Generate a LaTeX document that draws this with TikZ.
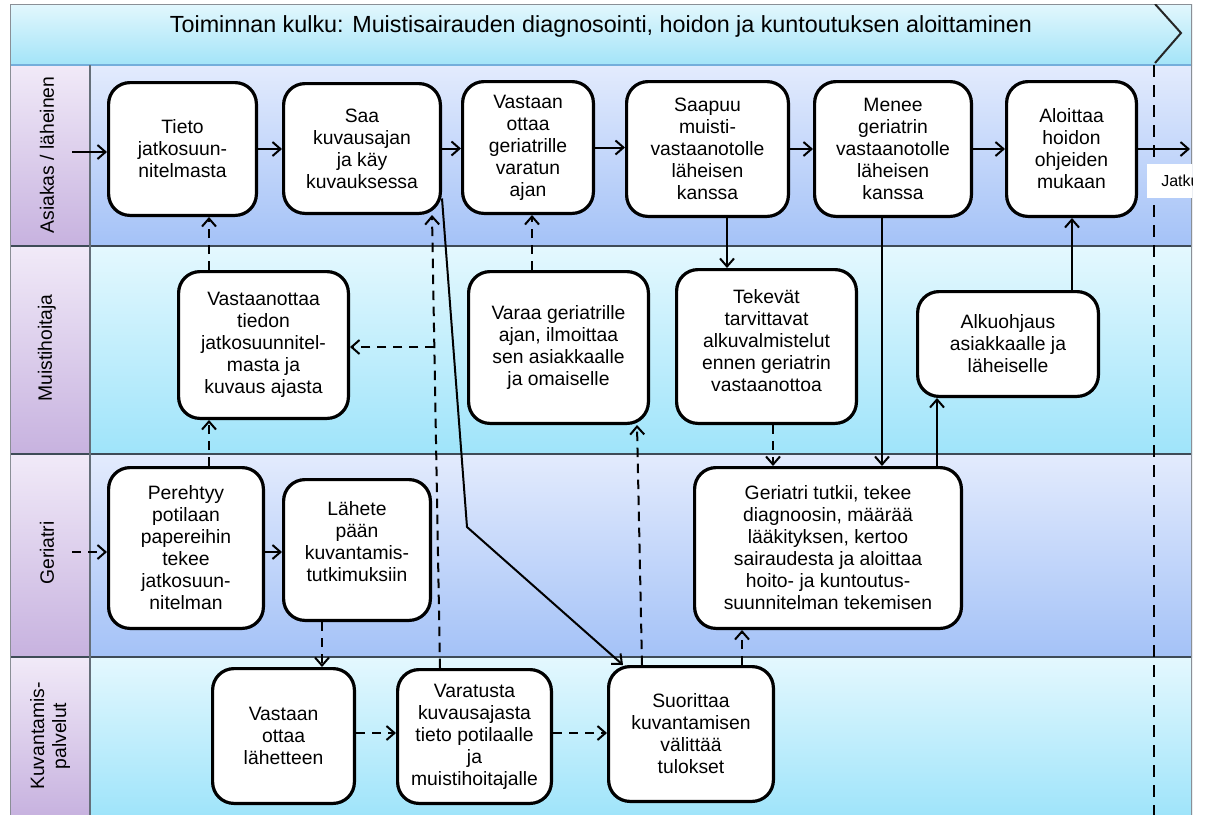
\documentclass[tikz,border=0pt]{standalone}
\usepackage{fontspec}
\setmainfont{Liberation Sans}
\usetikzlibrary{arrows.meta,calc}

\definecolor{titletop}{HTML}{E2F7FD}
\definecolor{titlebot}{HTML}{A3E4F8}
\definecolor{laneAtop}{HTML}{E3EBFD}
\definecolor{laneAbot}{HTML}{A4C2F7}
\definecolor{laneBtop}{HTML}{E4F8FE}
\definecolor{laneBbot}{HTML}{9FE4FA}
\definecolor{labtop}{HTML}{F1EAF8}
\definecolor{labbot}{HTML}{C7B2DF}
\definecolor{sepcol}{HTML}{3E4B57}
\definecolor{titleline}{HTML}{74AEDB}
\definecolor{framecol}{HTML}{8A8F96}

% process box given by its pixel corners (x1,y1) and (x2,y2)
\newcommand{\procbox}[6]{%
  \node[procbox,
        minimum width={(#4-#2)*0.75pt-2.4pt},
        minimum height={(#5-#3)*0.75pt-2.4pt}]
    (#1) at ({(#2+#4)/2},{(#3+#5)/2}) {#6};}

\begin{document}
\begin{tikzpicture}[x=0.75pt,y=-0.75pt,
  procbox/.style={draw=black, fill=white, line width=2.4pt, rounded corners=16pt,
    inner sep=0pt, align=center, font=\fontsize{14.5}{16.5}\selectfont},
  lanelabel/.style={rotate=90, align=center, font=\fontsize{14.5}{16.5}\selectfont},
  flow/.style={draw=black, line width=1.5pt,
    -{Straight Barb[length=6pt,width=10.5pt,line width=1.5pt]}},
  dflow/.style={flow, dash pattern=on 7pt off 5pt},
  lanesep/.style={draw=sepcol, line width=1.3pt}]

\useasboundingbox (0,0) rectangle (1209,814);

\begin{scope}
\clip (10,4) rectangle (1192,814);

% title band
\shade[top color=titletop, bottom color=titlebot] (10,4) rectangle (1192,65);
% lane backgrounds
\shade[top color=laneAtop, bottom color=laneAbot] (90,65) rectangle (1192,246);
\shade[top color=laneBtop, bottom color=laneBbot] (90,246) rectangle (1192,454);
\shade[top color=laneAtop, bottom color=laneAbot] (90,454) rectangle (1192,657);
\shade[top color=laneBtop, bottom color=laneBbot] (90,657) rectangle (1192,816);
% lane label cells
\shade[top color=labtop, bottom color=labbot] (10,65) rectangle (90,246);
\shade[top color=labtop, bottom color=labbot] (10,246) rectangle (90,454);
\shade[top color=labtop, bottom color=labbot] (10,454) rectangle (90,657);
\shade[top color=labtop, bottom color=labbot] (10,657) rectangle (90,816);

% borders
\draw[draw=titleline, line width=1.5pt] (10,65) -- (1192,65);
\draw[lanesep] (10,246) -- (1192,246);
\draw[lanesep] (10,454) -- (1192,454);
\draw[lanesep] (10,657) -- (1192,657);
\draw[draw=sepcol!80, line width=0.9pt] (90,65) -- (90,816);
\draw[draw=framecol, line width=1.2pt] (10,4) rectangle (1192,820);

% title
\node[anchor=base, font=\fontsize{17.5}{20}\selectfont] (title) at (601,32)
  {Toiminnan kulku: Muistisairauden diagnosointi, hoidon ja kuntoutuksen aloittaminen};

% phase boundary
\draw[draw=black!85, line width=1.5pt] (1155,4) -- (1181,33) -- (1155,63);
\draw[draw=black, line width=1.5pt, dash pattern=on 9pt off 6pt] (1154,65) -- (1154,816);

% lane labels
\node[lanelabel] (labA) at (47,155) {Asiakas / läheinen};
\node[lanelabel] (labM) at (47,348) {Muistihoitaja};
\node[lanelabel] (labG) at (47,553) {Geriatri};
\node[lanelabel] (labK) at (50,736) {Kuvantamis-\\palvelut};

% Asiakas / läheinen
\procbox{B1}{107}{81}{258}{217}{Tieto\\jatkosuun-\\nitelmasta}
\procbox{B2}{282}{82}{442}{215}{Saa\\kuvausajan\\ja käy\\kuvauksessa}
\procbox{B3}{461}{80}{595}{215}{Vastaan\\ottaa\\geriatrille\\varatun\\ajan}
\procbox{B4}{625}{80}{790}{218}{Saapuu\\muisti-\\vastaanotolle\\läheisen\\kanssa}
\procbox{B5}{813}{80}{973}{218}{Menee\\geriatrin\\vastaanotolle\\läheisen\\kanssa}
\procbox{B6}{1005}{80}{1138}{218}{Aloittaa\\hoidon\\ohjeiden\\mukaan}

% Muistihoitaja
\procbox{C1}{177}{270}{350}{420}{Vastaanottaa\\tiedon\\jatkosuunnitel-\\masta ja\\kuvaus ajasta}
\procbox{C2}{467}{270}{650}{425}{Varaa geriatrille\\ajan, ilmoittaa\\sen asiakkaalle\\ja omaiselle}
\procbox{C3}{675}{268}{858}{425}{Tekevät\\tarvittavat\\alkuvalmistelut\\ennen geriatrin\\vastaanottoa\\[-7pt]\mbox{}}
\procbox{C4}{916}{290}{1100}{398}{Alkuohjaus\\asiakkaalle ja\\läheiselle}

% Geriatri
\procbox{D1}{107}{466}{265}{630}{Perehtyy\\potilaan\\papereihin\\tekee\\jatkosuun-\\nitelman}
\procbox{D2}{282}{478}{432}{622}{Lähete\\pään\\kuvantamis-\\tutkimuksiin\\[-4pt]\mbox{}}
\procbox{D3}{693}{466}{963}{630}{Geriatri tutkii, tekee\\diagnoosin, määrää\\lääkityksen, kertoo\\sairaudesta ja aloittaa\\hoito- ja kuntoutus-\\suunnitelman tekemisen}

% Kuvantamispalvelut
\procbox{E1}{211}{667}{356}{805}{Vastaan\\ottaa\\lähetteen}
\procbox{E2}{396}{668}{553}{805}{Varatusta\\kuvausajasta\\tieto potilaalle\\ja\\muistihoitajalle}
\procbox{E3}{607}{665}{775}{803}{Suorittaa\\kuvantamisen\\välittää\\tulokset}

% continuation label
\node[fill=white, anchor=west, inner xsep=10.5pt, inner ysep=0pt,
      minimum height=25pt, font=\fontsize{12}{14}\selectfont] (jatku) at (1147,181) {Jatku};

% connectors
\coordinate (inA) at (72,152);
\coordinate (inG) at (72,552);
\coordinate (outA) at (1190,151);
\coordinate (split) at (434.3,347);
\coordinate (bend) at (467,527);

\draw[flow] (inA) -- (inA -| B1.west);
\draw[flow] (B1.east) -- (B1.east -| B2.west);
\draw[flow] (B2.east) -- (B2.east -| B3.west);
\draw[flow] (B3.east) -- (B3.east -| B4.west);
\draw[flow] (B4.east) -- (B4.east -| B5.west);
\draw[flow] (B5.east) -- (B5.east -| B6.west);
\draw[flow] (B6.east) -- (B6.east -| outA);

\draw[dflow] (D1.north -| 209,0) -- (C1.south -| 209,0);
\draw[dflow] (C1.north -| 209,0) -- (B1.south -| 209,0);
\draw[dflow] (inG) -- (inG -| D1.west);
\draw[flow] (D1.east |- 0,552) -- (D2.west |- 0,552);
\draw[dflow] (D2.south -| 322,0) -- (E1.north -| 322,0);
\draw[dflow] (E1.east |- 0,733) -- (E2.west |- 0,733);
\draw[dflow] (E2.north -| 440,0) -- (B2.south -| 432,0);
\draw[dflow] (split) -- (C1.east |- split);
\draw[dflow] (E2.east |- 0,733) -- (E3.west |- 0,733);
\draw[flow] (B2.-32) -- (bend) -- ($(E3.north west)+(16,0)$);
\draw[dflow] (E3.north -| 642,0) -- (C2.south -| 637,0);
\draw[dflow] (C2.north -| 532,0) -- (B3.south -| 532,0);
\draw[flow] (B4.south -| 727,0) -- (C3.north -| 727,0);
\draw[dflow] (C3.south -| 773,0) -- (D3.north -| 773,0);
\draw[flow] (B5.south -| 882,0) -- (D3.north -| 882,0);
\draw[flow] (D3.north -| 937,0) -- (C4.south -| 937,0);
\draw[flow] (C4.north -| 1072,0) -- (B6.south -| 1072,0);
\draw[dflow] (E3.north -| 742,0) -- (D3.south -| 742,0);
\end{scope}
\end{tikzpicture}
\end{document}
